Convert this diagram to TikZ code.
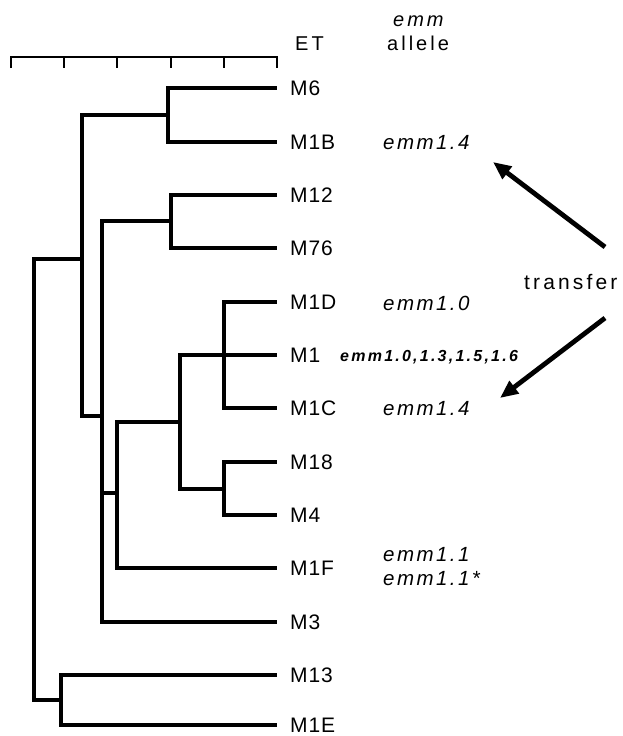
\documentclass[tikz,border=0pt]{standalone}
\usepackage{fontspec}
\setmainfont{Liberation Sans}
\newfontfamily\spaced[LetterSpace=15]{Liberation Sans}
\newfontfamily\leaffont[LetterSpace=4]{Liberation Sans}
\newfontfamily\allel[LetterSpace=12]{Liberation Sans}
\newfontfamily\mone[LetterSpace=14]{Liberation Sans}
\usetikzlibrary{arrows.meta}
\begin{document}
\begin{tikzpicture}[x=1pt,y=-1pt,
  branch/.style={line width=4.7pt},
  leaf/.style={anchor=west, inner xsep=13pt, inner ysep=0pt, font=\leaffont\fontsize{21}{23}\selectfont},
  allele/.style={anchor=base west, inner sep=0pt, font=\allel\itshape\fontsize{20.5}{22}\selectfont},
  head/.style={anchor=base west, inner sep=0pt, font=\spaced\fontsize{20}{22}\selectfont},
  tarrow/.style={line width=4.8pt, -{Triangle[length=18pt,width=15pt]}},
  scalebar/.style={line width=1.3pt}]
\useasboundingbox (0,0) rectangle (623,736);

% scale bar
\draw[scalebar] (11,68) -- (11,57) -- (277,57) -- (277,68);
\foreach \x in {64,117,171,224} \draw[scalebar] (\x,57) -- (\x,68);

% headers
\node[head] (ET) at (295,50) {ET};
\node[head] (emmhead) at (393,27) {\itshape emm};
\node[head] (allelehead) at (387,50) {allele};

% leaves
\node[leaf] (M6)  at (277,88)  {M6};
\node[leaf] (M1B) at (277,142) {M1B};
\node[leaf] (M12) at (277,195) {M12};
\node[leaf] (M76) at (277,248) {M76};
\node[leaf] (M1D) at (277,302) {M1D};
\node[leaf] (M1)  at (277,355) {M1};
\node[leaf] (M1C) at (277,408) {M1C};
\node[leaf] (M18) at (277,462) {M18};
\node[leaf] (M4)  at (277,515) {M4};
\node[leaf] (M1F) at (277,568) {M1F};
\node[leaf] (M3)  at (277,622) {M3};
\node[leaf] (M13) at (277,675) {M13};
\node[leaf] (M1E) at (277,725) {M1E};

% internal nodes
\coordinate (a) at (168,115);
\coordinate (b) at (171,221);
\coordinate (c) at (224,355);
\coordinate (d) at (224,489);
\coordinate (e) at (180,422);
\coordinate (f) at (117,493);
\coordinate (g) at (102,416);
\coordinate (h) at (82,259);
\coordinate (i) at (61,700);
\coordinate (root) at (34,480);

\draw[branch] (a) |- (M6.west);
\draw[branch] (a) |- (M1B.west);
\draw[branch] (b) |- (M12.west);
\draw[branch] (b) |- (M76.west);
\draw[branch] (c) |- (M1D.west);
\draw[branch] (c) -- (M1.west);
\draw[branch] (c) |- (M1C.west);
\draw[branch] (d) |- (M18.west);
\draw[branch] (d) |- (M4.west);
\draw[branch] (e) |- (c);
\draw[branch] (e) |- (d);
\draw[branch] (f) |- (e);
\draw[branch] (f) |- (M1F.west);
\draw[branch] (g) |- (b);
\draw[branch] (g) |- (f);
\draw[branch] (g) |- (M3.west);
\draw[branch] (h) |- (a);
\draw[branch] (h) |- (g);
\draw[branch] (i) |- (M13.west);
\draw[branch] (i) |- (M1E.west);
\draw[branch] (root) |- (h);
\draw[branch] (root) |- (i);

% alleles
\node[allele] (al1B) at (383,149) {emm1.4};
\node[allele] (al1D) at (383,310) {emm1.0};
\node[anchor=base west, inner sep=0pt, font=\mone\bfseries\itshape\fontsize{16}{18}\selectfont] (al1) at (340,361) {emm1.0,1.3,1.5,1.6};
\node[allele] (al1C) at (383,415) {emm1.4};
\node[allele] (al1Fa) at (383,561) {emm1.1};
\node[allele] (al1Fb) at (383,585) {emm1.1*};

% transfer
\node[head, font=\spaced\fontsize{21}{23}\selectfont] (transfer) at (524,289) {transfer};
\coordinate (t1s) at (605,247);
\coordinate (t1e) at (493,162);
\coordinate (t2s) at (605,318);
\coordinate (t2e) at (500,398);
\draw[tarrow] (t1s) -- (t1e);
\draw[tarrow] (t2s) -- (t2e);
\end{tikzpicture}
\end{document}
